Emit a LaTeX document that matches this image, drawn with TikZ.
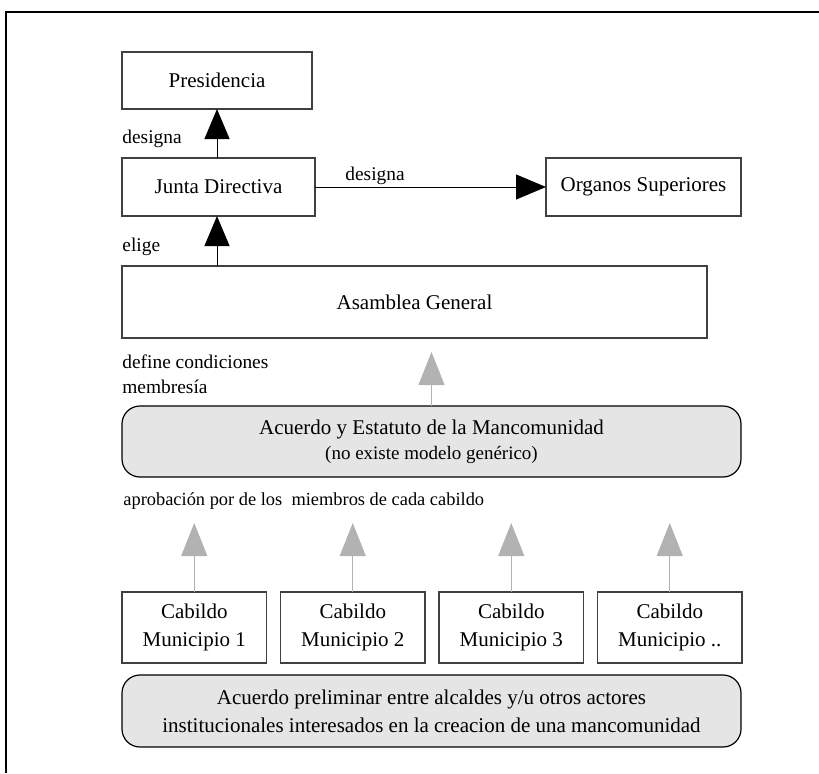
\documentclass[tikz,border=0pt]{standalone}
\usepackage{fontspec}
\setmainfont{Liberation Serif}
\usetikzlibrary{arrows.meta}
\begin{document}
\begin{tikzpicture}[x=0.5pt,y=-0.5pt,
  box/.style={draw=black!75, line width=0.6pt, inner sep=0pt, outer sep=0pt,
    font=\fontsize{10.5}{14}\selectfont, align=center},
  rbox/.style={box, draw=black, fill=black!10, rounded corners=9pt},
  lbl/.style={inner sep=0pt, font=\fontsize{9.7}{12.5}\selectfont},
  blk/.style={line width=0.5pt, -{Triangle[width=12.5pt,length=15pt]}},
  gry/.style={draw=black!30, line width=0.5pt, -{Triangle[width=13pt,length=16.5pt]}}
]
\useasboundingbox (0,0) rectangle (819,773);
\draw[line width=1pt] (6,773) -- (6,12) -- (819,12);

\node[box, minimum width=95pt, minimum height=28.5pt] (pres) at (217,80.5) {Presidencia};
\node[box, minimum width=96.5pt, minimum height=29pt] (junta) at (218.5,187) {Junta Directiva};
\node[box, minimum width=97.5pt, minimum height=29pt] (org) at (643.5,187) {Organos Superiores};
\node[box, minimum width=292.5pt, minimum height=36pt] (asam) at (414.5,302) {Asamblea General};
\node[rbox, minimum width=309.5pt, minimum height=35.5pt] (acu) at (431.5,441.5)
  {Acuerdo y Estatuto de la Mancomunidad\\[-1.5pt]{\fontsize{9.5}{11}\selectfont (no existe modelo genérico)}};

\node[box, minimum width=72.25pt, minimum height=35.5pt] (cab1) at (194.25,627.5) {Cabildo\\Municipio 1};
\node[box, minimum width=72.25pt, minimum height=35.5pt] (cab2) at (352.75,627.5) {Cabildo\\Municipio 2};
\node[box, minimum width=72.25pt, minimum height=35.5pt] (cab3) at (511.25,627.5) {Cabildo\\Municipio 3};
\node[box, minimum width=72.25pt, minimum height=35.5pt] (cab4) at (669.75,627.5) {Cabildo\\Municipio ..};

\node[rbox, minimum width=309.5pt, minimum height=36pt] (pre) at (431.5,711)
  {Acuerdo preliminar entre alcaldes y/u otros actores\\institucionales interesados en la creacion de una mancomunidad};

\node[lbl, anchor=base west] (l1) at (122,143) {designa};
\node[lbl, anchor=base west] (l2) at (345,180) {designa};
\node[lbl, anchor=base west] (l3) at (122,251) {elige};
\node[lbl, anchor=base west] (l4) at (122,368) {define condiciones};
\node[lbl, anchor=base west] (l5) at (122,393) {membresía};
\node[lbl, anchor=base west, font=\fontsize{9.2}{12}\selectfont] (l6) at (123,505) {aprobación por de los\ \ miembros de cada cabildo};

\draw[blk] (pres.south |- junta.north) -- (pres.south);
\draw[blk] (junta.east) -- (org.west);
\draw[blk] (pres.south |- asam.north) -- (pres.south |- junta.south);
\draw[gry, shorten >=7pt] (acu.north) -- (acu.north |- asam.south);
\foreach \i in {1,2,3,4}
  \draw[gry, shorten >=23pt] (cab\i.north) -- (cab\i.north |- acu.south);
\end{tikzpicture}
\end{document}
